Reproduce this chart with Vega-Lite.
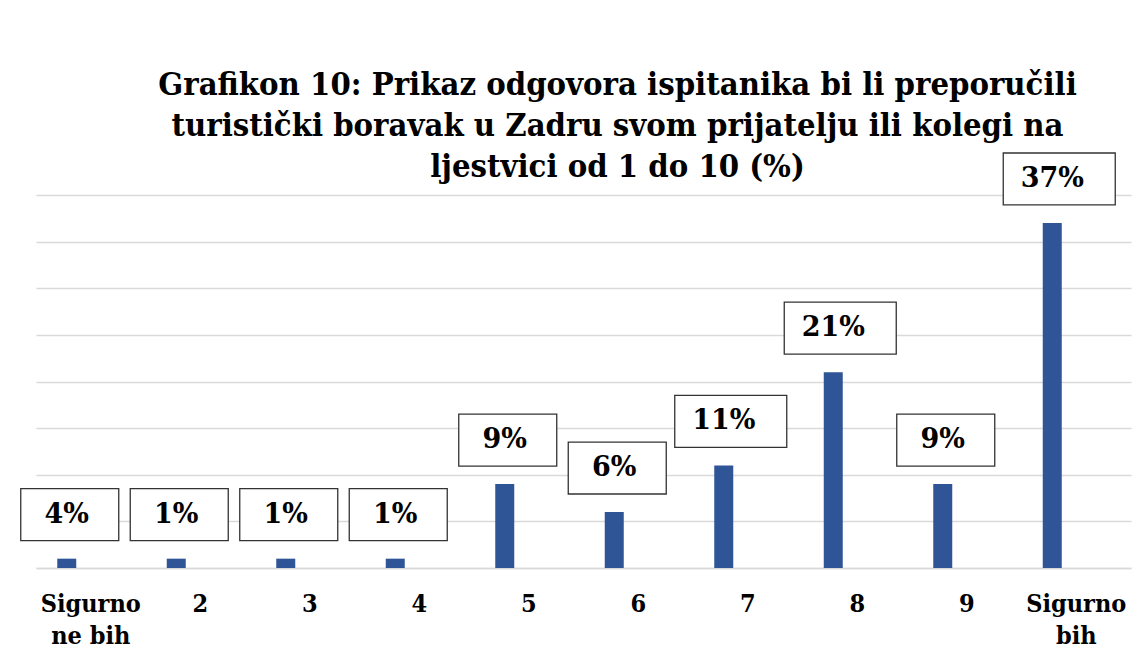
{
  "$schema": "https://vega.github.io/schema/vega-lite/v6.json",
  "autosize": {"type": "none"},
  "width": 1095,
  "height": 373,
  "padding": {"left": 36, "top": 195, "right": 14, "bottom": 96},
  "background": "white",
  "config": {"view": {"stroke": null}},
  "title": {
    "text": ["Grafikon 10: Prikaz odgovora ispitanika bi li preporučili", "turistički boravak u Zadru svom prijatelju ili kolegi na", "ljestvici od 1 do 10 (%)"],
    "font": "DejaVu Serif Condensed",
    "fontSize": 32.5,
    "fontWeight": "bold",
    "color": "black",
    "anchor": "middle",
    "frame": "group",
    "dx": 34,
    "dy": 47,
    "lineHeight": 41,
    "offset": 14
  },
  "data": {
    "values": [
      {"odgovor": "Sigurno ne bih", "visina": 1, "postotak": "4%"},
      {"odgovor": "2", "visina": 1, "postotak": "1%"},
      {"odgovor": "3", "visina": 1, "postotak": "1%"},
      {"odgovor": "4", "visina": 1, "postotak": "1%"},
      {"odgovor": "5", "visina": 9, "postotak": "9%"},
      {"odgovor": "6", "visina": 6, "postotak": "6%"},
      {"odgovor": "7", "visina": 11, "postotak": "11%"},
      {"odgovor": "8", "visina": 21, "postotak": "21%"},
      {"odgovor": "9", "visina": 9, "postotak": "9%"},
      {"odgovor": "Sigurno bih", "visina": 37, "postotak": "37%"}
    ]
  },
  "encoding": {
    "x": {
      "field": "odgovor",
      "type": "nominal",
      "sort": null,
      "scale": {"paddingInner": 0, "paddingOuter": 0},
      "axis": {
        "title": null,
        "labelAngle": 0,
        "labelFont": "DejaVu Serif Condensed",
        "labelFontSize": 25,
        "labelFontWeight": "bold",
        "labelColor": "black",
        "labelLineHeight": 32,
        "labelPadding": 23,
        "labelExpr": "datum.value == 'Sigurno ne bih' ? ['Sigurno', 'ne bih'] : datum.value == 'Sigurno bih' ? ['Sigurno', 'bih'] : datum.value",
        "ticks": false,
        "domainColor": "#d9d9d9",
        "domainWidth": 1.5,
        "grid": false
      }
    },
    "y": {
      "field": "visina",
      "type": "quantitative",
      "scale": {"domain": [0, 40], "nice": false},
      "axis": {
        "title": null,
        "labels": false,
        "ticks": false,
        "domain": false,
        "values": [0, 5, 10, 15, 20, 25, 30, 35, 40],
        "gridColor": "#d9d9d9",
        "gridWidth": 1.5
      }
    }
  },
  "layer": [
    {
      "mark": {"type": "bar", "color": "#2F5597", "width": 19, "xOffset": -24}
    },
    {
      "transform": [{"filter": "length(datum.postotak) == 2"}],
      "mark": {
        "type": "point",
        "shape": "M-1,-0.53 L1,-0.53 L1,0.53 L-1,0.53 Z",
        "size": 9604,
        "filled": true,
        "fill": "white",
        "stroke": "#333333",
        "strokeWidth": 1.3,
        "opacity": 1,
        "xOffset": -21,
        "yOffset": -44
      }
    },
    {
      "transform": [{"filter": "length(datum.postotak) == 3"}],
      "mark": {
        "type": "point",
        "shape": "M-1,-0.464 L1,-0.464 L1,0.464 L-1,0.464 Z",
        "size": 12544,
        "filled": true,
        "fill": "white",
        "stroke": "#333333",
        "strokeWidth": 1.3,
        "opacity": 1,
        "xOffset": -17,
        "yOffset": -44
      }
    },
    {
      "mark": {
        "type": "text",
        "font": "DejaVu Serif",
        "fontSize": 27,
        "fontWeight": "bold",
        "color": "black",
        "baseline": "middle",
        "align": "center",
        "xOffset": -24,
        "yOffset": -44
      },
      "encoding": {"text": {"field": "postotak"}}
    }
  ]
}
